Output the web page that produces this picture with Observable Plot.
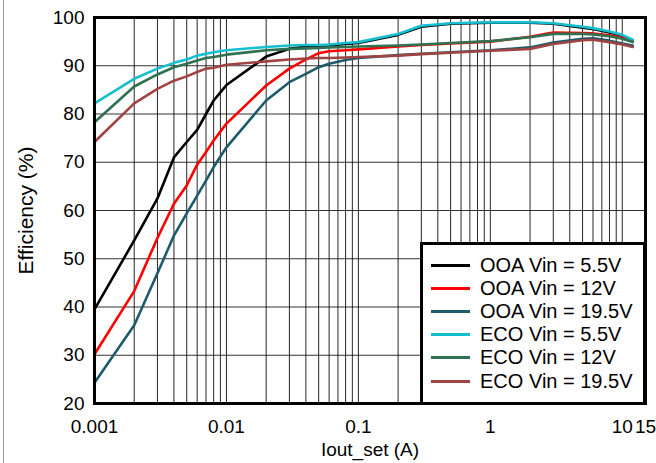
<!DOCTYPE html>
<html>
<head>
<meta charset="utf-8">
<script src="https://cdn.jsdelivr.net/npm/d3@7"></script>
<script src="https://cdn.jsdelivr.net/npm/@observablehq/plot@0.6"></script>
<style>
  html, body { margin: 0; padding: 0; background: #fff; }
  #wrap { position: relative; width: 656px; height: 463px; overflow: hidden;
          font-family: "Liberation Sans", Arial, sans-serif; color: #000; }
  #edge { position: absolute; left: 3px; top: 0; width: 1px; height: 463px; background: #9a9a9a; }
  #legend { position: absolute; left: 420px; top: 242px; width: 226px; height: 163px;
            box-sizing: border-box; border: 3px solid #000; background: #fff; }
  .row { position: absolute; left: 0; height: 22px; }
  .swatch { position: absolute; left: 8px; width: 39px; height: 3px; }
  .lab { position: absolute; left: 57px; white-space: nowrap; font-size: 20px; line-height: 22px; }
  svg { overflow: visible; }
</style>
</head>
<body>
<div id="wrap"><div id="edge"></div></div>
<script>
// Load current (A)
const currents = [0.001, 0.002, 0.003, 0.004, 0.005, 0.006, 0.007, 0.008, 0.01, 0.02, 0.03, 0.04, 0.05, 0.06, 0.08, 0.1, 0.2, 0.3, 0.5, 1, 2, 3, 5, 6, 8, 10, 12];

// Efficiency (%) per series
const ooa55  = [39.5, 53.8, 62.5, 71.0, 74.2, 76.7, 80.0, 82.8, 86.0, 91.9, 93.5, 94.0, 94.0, 94.2, 94.5, 94.7, 96.4, 98.1, 98.7, 98.9, 98.9, 98.7, 97.9, 97.6, 96.9, 96.2, 95.3];
const ooa12  = [30.2, 43.3, 54.3, 61.4, 65.2, 69.5, 72.1, 74.5, 78.0, 85.9, 89.4, 91.3, 92.6, 93.0, 93.2, 93.4, 94.0, 94.3, 94.6, 95.0, 96.0, 96.9, 96.8, 96.7, 96.3, 95.8, 95.1];
const ooa195 = [24.3, 36.2, 47.0, 54.8, 59.4, 63.1, 66.2, 69.0, 73.1, 82.8, 86.6, 88.3, 89.7, 90.4, 91.2, 91.6, 92.2, 92.5, 92.8, 93.2, 93.8, 94.8, 95.6, 95.7, 95.2, 94.6, 94.2];
const eco55  = [82.2, 87.3, 89.4, 90.6, 91.3, 92.1, 92.5, 92.8, 93.2, 93.9, 94.2, 94.3, 94.3, 94.4, 94.7, 94.9, 96.6, 98.3, 98.8, 99.0, 99.0, 98.8, 98.1, 97.8, 97.1, 96.4, 95.4];
const eco12  = [78.3, 85.7, 88.2, 89.7, 90.4, 91.1, 91.6, 91.8, 92.3, 93.2, 93.5, 93.6, 93.7, 93.8, 93.9, 94.0, 94.2, 94.4, 94.7, 95.1, 95.9, 96.6, 96.6, 96.5, 96.1, 95.6, 94.9];
const eco195 = [74.2, 82.2, 85.2, 86.9, 87.8, 88.7, 89.4, 89.6, 90.2, 90.9, 91.3, 91.5, 91.6, 91.6, 91.7, 91.8, 92.1, 92.4, 92.7, 93.1, 93.5, 94.5, 95.3, 95.4, 94.9, 94.4, 93.9];

const seriesNames  = ["OOA Vin = 5.5V", "OOA Vin = 12V", "OOA Vin = 19.5V", "ECO Vin = 5.5V", "ECO Vin = 12V", "ECO Vin = 19.5V"];
const seriesValues = [ooa55, ooa12, ooa195, eco55, eco12, eco195];
const seriesColors = ["#000000", "#ff0000", "#1d5a6b", "#16bfd0", "#2f7150", "#a04343"];

// Axis ticks
const yTicks = [20, 30, 40, 50, 60, 70, 80, 90, 100];
const xTicks = [0.001, 0.01, 0.1, 1, 10, 15];
const xTickLabels = ["0.001", "0.01", "0.1", "1", "10", "15"];
const xGrid = [0.001,0.002,0.003,0.004,0.005,0.006,0.007,0.008,0.009,
               0.01,0.02,0.03,0.04,0.05,0.06,0.07,0.08,0.09,
               0.1,0.2,0.3,0.4,0.5,0.6,0.7,0.8,0.9,
               1,2,3,4,5,6,7,8,9,10];

const table = [];
seriesNames.forEach((name, s) => {
  currents.forEach((x, i) => table.push({series: name, x, y: seriesValues[s][i]}));
});
const xLabelMap = new Map(xTicks.map((t, i) => [t, xTickLabels[i]]));

const chart = Plot.plot({
  width: 656,
  height: 463,
  marginLeft: 94,
  marginRight: 11,
  marginTop: 17,
  marginBottom: 60,
  style: {fontFamily: "Liberation Sans, Arial, sans-serif", fontSize: "19px", color: "#000", background: "transparent"},
  x: {type: "log", domain: [0.001, 15]},
  y: {domain: [20, 100]},
  color: {domain: seriesNames, range: seriesColors},
  marks: [
    Plot.ruleY(yTicks, {stroke: "#000", strokeOpacity: 0.8, strokeWidth: 1}),
    Plot.ruleX(xGrid, {stroke: "#000", strokeOpacity: 0.85, strokeWidth: 1}),
    Plot.line(table, {x: "x", y: "y", z: "series", stroke: "series", strokeWidth: 2.6}),
    Plot.frame({stroke: "#000", strokeWidth: 3}),
    Plot.axisX({ticks: xTicks, tickFormat: d => xLabelMap.get(d), tickSize: 0, tickPadding: 16,
                fontSize: 19, label: null}),
    Plot.axisX({ticks: [], tickSize: 0, fontSize: 19, label: "Iout_set (A)", labelAnchor: "center", labelArrow: "none", labelOffset: 52}),
    Plot.axisY({ticks: yTicks, tickSize: 0, tickPadding: 10, fontSize: 19,
                label: null}),
    Plot.axisY({ticks: [], tickSize: 0, fontSize: 21, label: "Efficiency (%)", labelAnchor: "center", labelArrow: "none", labelOffset: 76})
  ]
});
chart.style.position = "absolute";
chart.style.left = "0px";
chart.style.top = "0px";
const wrap = document.getElementById("wrap");
wrap.appendChild(chart);

// Legend
const legend = document.createElement("div");
legend.id = "legend";
seriesNames.forEach((name, i) => {
  const row = document.createElement("div");
  row.className = "row";
  row.style.top = (9 + i * 23.1) + "px";
  const sw = document.createElement("div");
  sw.className = "swatch";
  sw.style.top = "10px";
  sw.style.background = seriesColors[i];
  const lab = document.createElement("div");
  lab.className = "lab";
  lab.style.top = "0px";
  lab.textContent = name;
  row.appendChild(sw);
  row.appendChild(lab);
  legend.appendChild(row);
});
wrap.appendChild(legend);
</script>
</body>
</html>
